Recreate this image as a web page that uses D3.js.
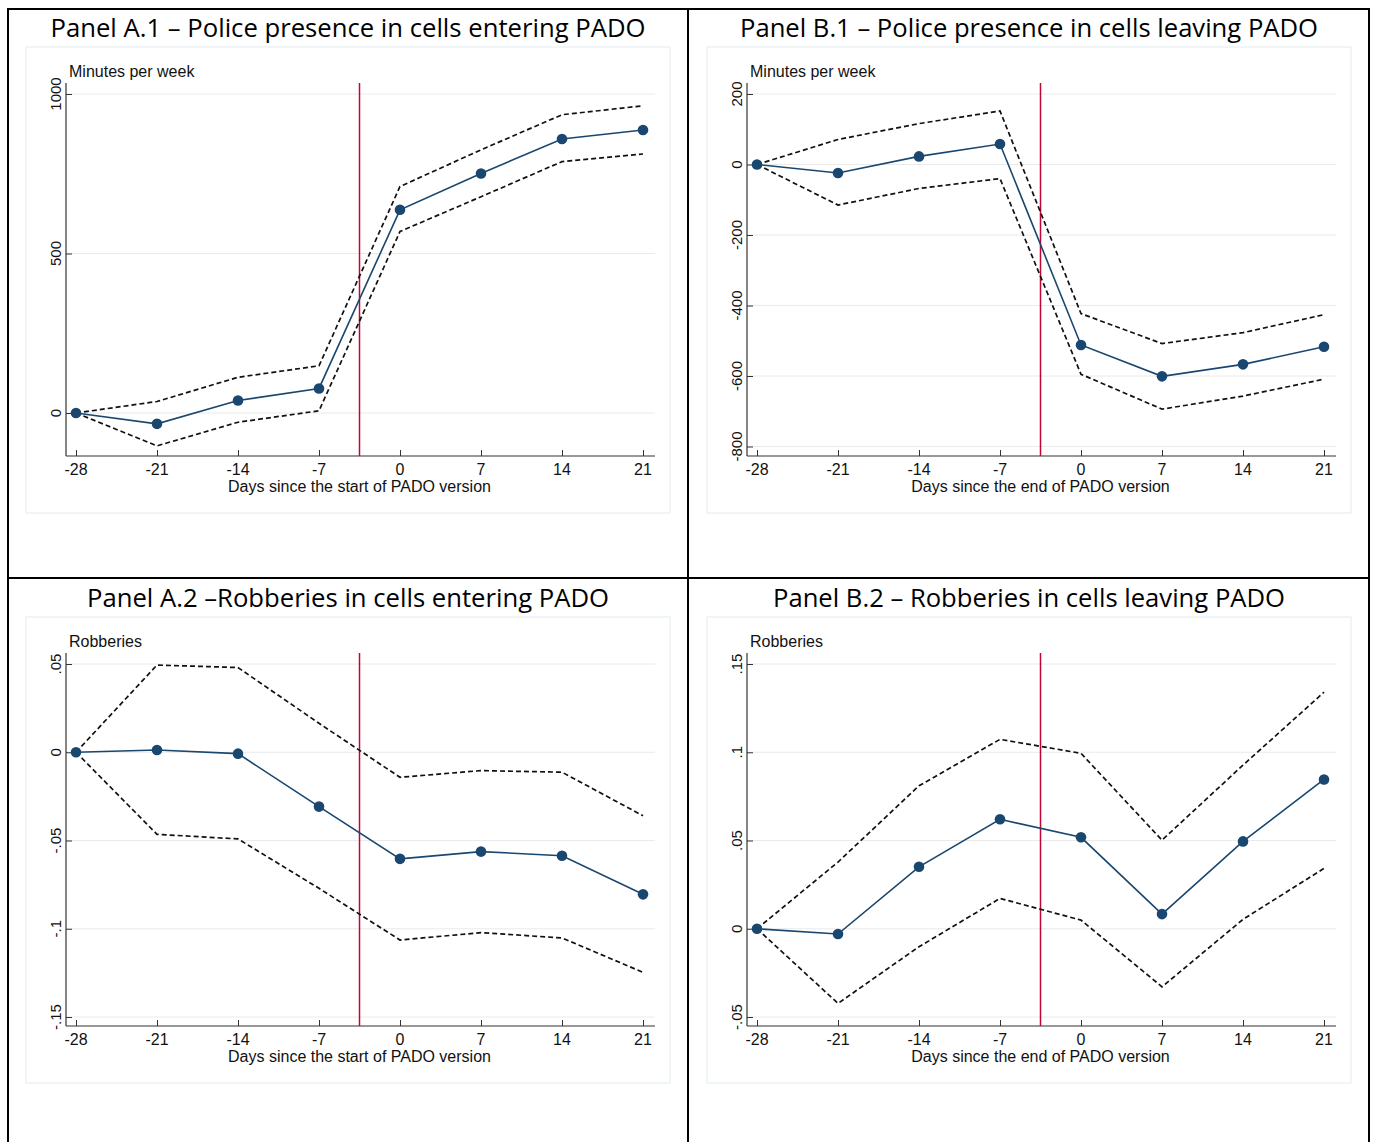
<!DOCTYPE html>
<html>
<head>
<meta charset="utf-8">
<script src="https://cdnjs.cloudflare.com/ajax/libs/d3/7.8.5/d3.min.js"></script>
<style>
  body { margin: 0; background: #fff; }
  svg { display: block; }
</style>
</head>
<body>
<svg id="chart" width="1374" height="1142"></svg>
<script>
// event-time (days relative to the PADO version change)
const days = [-28, -21, -14, -7, 0, 7, 14, 21];
const cutoff = -3.5;

// Panel A.1 - police minutes per week, cells entering PADO
const a1Est = [0, -34, 39, 77, 637, 751, 859, 887];
const a1Hi  = [0, 36, 112, 148, 710, 825, 935, 963];
const a1Lo  = [0, -103, -29, 7, 569, 678, 788, 812];

// Panel B.1 - police minutes per week, cells leaving PADO
const b1Est = [0, -24, 23, 58, -512, -601, -567, -517];
const b1Hi  = [0, 71, 116, 152, -423, -508, -477, -426];
const b1Lo  = [0, -115, -68, -40, -595, -694, -657, -609];

// Panel A.2 - robberies, cells entering PADO
const a2Est = [0, 0.0013, -0.0008, -0.0308, -0.0604, -0.0563, -0.0586, -0.0805];
const a2Hi  = [0, 0.0494, 0.0480, 0.0164, -0.0142, -0.0104, -0.0113, -0.0360];
const a2Lo  = [0, -0.0465, -0.0491, -0.0771, -0.1064, -0.1022, -0.1052, -0.1247];

// Panel B.2 - robberies, cells leaving PADO
const b2Est = [0, -0.0030, 0.0351, 0.0620, 0.0518, 0.0083, 0.0495, 0.0846];
const b2Hi  = [0, 0.0378, 0.0810, 0.1073, 0.0994, 0.0502, 0.0927, 0.1340];
const b2Lo  = [0, -0.0423, -0.0102, 0.0172, 0.0049, -0.0329, 0.0053, 0.0342];

const a1Ticks = [0, 500, 1000];
const b1Ticks = [-800, -600, -400, -200, 0, 200];
const a2Ticks = [-0.15, -0.1, -0.05, 0, 0.05];
const b2Ticks = [-0.05, 0, 0.05, 0.1, 0.15];

// Stata style: ".05", "-.1", plain hyphen for minus
const fmtDec = v => v === 0 ? '0' : d3.format('.2~f')(v).replace('\u2212', '-').replace('0.', '.');

const panels = [
  { title: 'Panel A.1 \u2013 Police presence in cells entering PADO', tLen: 595,
    ytitle: 'Minutes per week', xtitle: 'Days since the start of PADO version',
    est: a1Est, hi: a1Hi, lo: a1Lo, ticks: a1Ticks, fmt: d => String(d),
    ydom: [0, 1000], yrange: [413, 94], ox: 0, oy: 0 },
  { title: 'Panel B.1 \u2013 Police presence in cells leaving PADO', tLen: 578,
    ytitle: 'Minutes per week', xtitle: 'Days since the end of PADO version',
    est: b1Est, hi: b1Hi, lo: b1Lo, ticks: b1Ticks, fmt: d => String(d),
    ydom: [-800, 200], yrange: [446.5, 94], ox: 681, oy: 0 },
  { title: 'Panel A.2 \u2013Robberies in cells entering PADO', tLen: 522,
    ytitle: 'Robberies', xtitle: 'Days since the start of PADO version',
    est: a2Est, hi: a2Hi, lo: a2Lo, ticks: a2Ticks, fmt: fmtDec,
    ydom: [-0.15, 0.05], yrange: [447, 94], ox: 0, oy: 570 },
  { title: 'Panel B.2 \u2013 Robberies in cells leaving PADO', tLen: 512,
    ytitle: 'Robberies', xtitle: 'Days since the end of PADO version',
    est: b2Est, hi: b2Hi, lo: b2Lo, ticks: b2Ticks, fmt: fmtDec,
    ydom: [-0.05, 0.15], yrange: [447, 94], ox: 681, oy: 570 }
];

const svg = d3.select('#chart');
const axisFont = '"Liberation Sans", Arial, sans-serif';
const navy = '#1a476f';

// table frame
const frame = svg.append('g').attr('stroke', '#000').attr('stroke-width', 2).attr('fill', 'none');
frame.append('rect').attr('x', 8).attr('y', 9).attr('width', 1361).attr('height', 1150);
frame.append('line').attr('x1', 688).attr('x2', 688).attr('y1', 9).attr('y2', 1142);
frame.append('line').attr('x1', 8).attr('x2', 1369).attr('y1', 578).attr('y2', 578);

panels.forEach(p => {
  const g = svg.append('g').attr('transform', `translate(${p.ox},${p.oy})`);

  // panel title
  g.append('text')
    .attr('x', 348).attr('y', 37)
    .attr('text-anchor', 'middle')
    .attr('textLength', p.tLen).attr('lengthAdjust', 'spacingAndGlyphs')
    .style('font-family', '"Open Sans", "Noto Sans", sans-serif')
    .style('font-size', '25px')
    .text(p.title);

  // graph region outline
  g.append('rect')
    .attr('x', 26).attr('y', 47).attr('width', 644).attr('height', 466)
    .attr('fill', '#fff').attr('stroke', '#e6eef2').attr('stroke-width', 1.2);

  const x = d3.scaleLinear().domain([-28, 21]).range([76, 643]);
  const y = d3.scaleLinear().domain(p.ydom).range(p.yrange);
  const plotTop = 83, plotBottom = 456, plotLeft = 66, plotRight = 655;

  // gridlines
  g.append('g').selectAll('line').data(p.ticks).enter().append('line')
    .attr('x1', plotLeft).attr('x2', plotRight)
    .attr('y1', d => y(d)).attr('y2', d => y(d))
    .attr('stroke', '#eaeaea').attr('stroke-width', 1);

  // y axis
  const yAxis = d3.axisRight(y).tickValues(p.ticks).tickSize(6).tickFormat('');
  const ya = g.append('g').attr('transform', `translate(${plotLeft},0)`).call(yAxis);
  ya.select('.domain').remove();
  ya.selectAll('line').attr('stroke', '#333');
  g.append('line').attr('x1', plotLeft).attr('x2', plotLeft)
    .attr('y1', plotTop).attr('y2', plotBottom).attr('stroke', '#333').attr('stroke-width', 1.2);
  g.append('g').selectAll('text').data(p.ticks).enter().append('text')
    .attr('transform', d => `translate(61,${y(d)}) rotate(-90)`)
    .attr('text-anchor', 'middle')
    .style('font-family', axisFont).style('font-size', '15px').attr('fill', '#111')
    .text(p.fmt);

  // x axis
  const xAxis = d3.axisTop(x).tickValues(days).tickSize(6).tickFormat('');
  const xa = g.append('g').attr('transform', `translate(0,${plotBottom})`).call(xAxis);
  xa.select('.domain').remove();
  xa.selectAll('line').attr('stroke', '#333');
  g.append('line').attr('x1', plotLeft).attr('x2', plotRight)
    .attr('y1', plotBottom).attr('y2', plotBottom).attr('stroke', '#333').attr('stroke-width', 1.2);
  g.append('g').selectAll('text').data(days).enter().append('text')
    .attr('x', d => x(d)).attr('y', 475)
    .attr('text-anchor', 'middle')
    .style('font-family', axisFont).style('font-size', '16px').attr('fill', '#111')
    .text(d => String(d));

  g.append('text')
    .attr('x', x(cutoff)).attr('y', 491.5).attr('text-anchor', 'middle')
    .style('font-family', axisFont).style('font-size', '16px').attr('fill', '#111')
    .text(p.xtitle);

  g.append('text')
    .attr('x', 69).attr('y', 77)
    .style('font-family', axisFont).style('font-size', '16px').attr('fill', '#111')
    .text(p.ytitle);

  // cutoff line
  g.append('line')
    .attr('x1', x(cutoff)).attr('x2', x(cutoff))
    .attr('y1', plotTop).attr('y2', plotBottom)
    .attr('stroke', '#c10534').attr('stroke-width', 1.5);

  const line = d3.line().x((d, i) => x(days[i])).y(d => y(d));

  // confidence bounds
  [p.hi, p.lo].forEach(arr => {
    g.append('path').datum(arr).attr('d', line)
      .attr('fill', 'none').attr('stroke', '#111')
      .attr('stroke-width', 1.7).attr('stroke-dasharray', '5,3');
  });

  // point estimates
  g.append('path').datum(p.est).attr('d', line)
    .attr('fill', 'none').attr('stroke', navy).attr('stroke-width', 1.6);
  g.append('g').selectAll('circle').data(p.est).enter().append('circle')
    .attr('cx', (d, i) => x(days[i])).attr('cy', d => y(d)).attr('r', 5.3)
    .attr('fill', navy);
});
</script>
</body>
</html>
